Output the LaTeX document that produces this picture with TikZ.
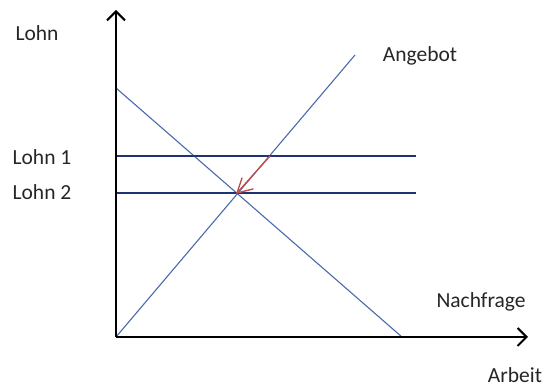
\documentclass[tikz,border=0pt]{standalone}
\usepackage{fontspec}
\setmainfont{Carlito}
\usepackage{tikz}
\usetikzlibrary{arrows.meta}
\definecolor{linie}{HTML}{4A6AAA}
\definecolor{lohnlinie}{HTML}{1F3370}
\definecolor{pfeil}{HTML}{C0504D}
\tikzset{
  achse/.style={line width=2.6pt, -{Straight Barb[length=9pt,width=18pt,line width=2pt]}},
  kurve/.style={line width=1.1pt, color=linie},
  lohn/.style={line width=1.3pt, color=lohnlinie},
  anpassung/.style={line width=1.4pt, color=pfeil, line cap=round, line join=round},
  beschr/.style={font=\fontsize{21.5}{24}\selectfont, text=black!85, inner sep=0pt}
}

\begin{document}
\begin{tikzpicture}[x=1pt,y=1pt]
        \useasboundingbox (0,0) rectangle (547,387);
        \coordinate (O) at (116,50);
        \coordinate (Yend) at (116,377);
        \coordinate (Xend) at (528,50);
        \coordinate (A1) at (355,332);
        \coordinate (N0) at (116,299);
        \coordinate (N1) at (402,50);
        \coordinate (L1a) at (116,231);
        \coordinate (L1b) at (416,231);
        \coordinate (L2a) at (116,194);
        \coordinate (L2b) at (416,194);
        \coordinate (S) at (237,194);
        \coordinate (P) at (270,231);
        \coordinate (B1) at (242,209);
        \coordinate (B2) at (253,198);
        % Angebot und Nachfrage
        \draw[kurve] (O) -- (A1);
        \draw[kurve] (N0) -- (N1);
        % Lohnniveaus
        \draw[lohn] (L1a) -- (L1b);
        \draw[lohn] (L2a) -- (L2b);
        % Anpassung
        \draw[anpassung] (P) -- (S);
        \draw[anpassung] (B1) -- (S) -- (B2);
        % Achsen
        \draw[achse] (O) -- (Yend);
        \draw[achse] (O) -- (Xend);
        % Beschriftung
        \node[beschr] (lohn) at (37,354) {Lohn};
        \node[beschr] (lohn1) at (42,230) {Lohn 1};
        \node[beschr] (lohn2) at (42,195) {Lohn 2};
        \node[beschr] (angebot) at (420,331) {Angebot};
        \node[beschr] (nachfrage) at (481,85) {Nachfrage};
        \node[beschr] (arbeit) at (515,12) {Arbeit};
\end{tikzpicture}
\end{document}
